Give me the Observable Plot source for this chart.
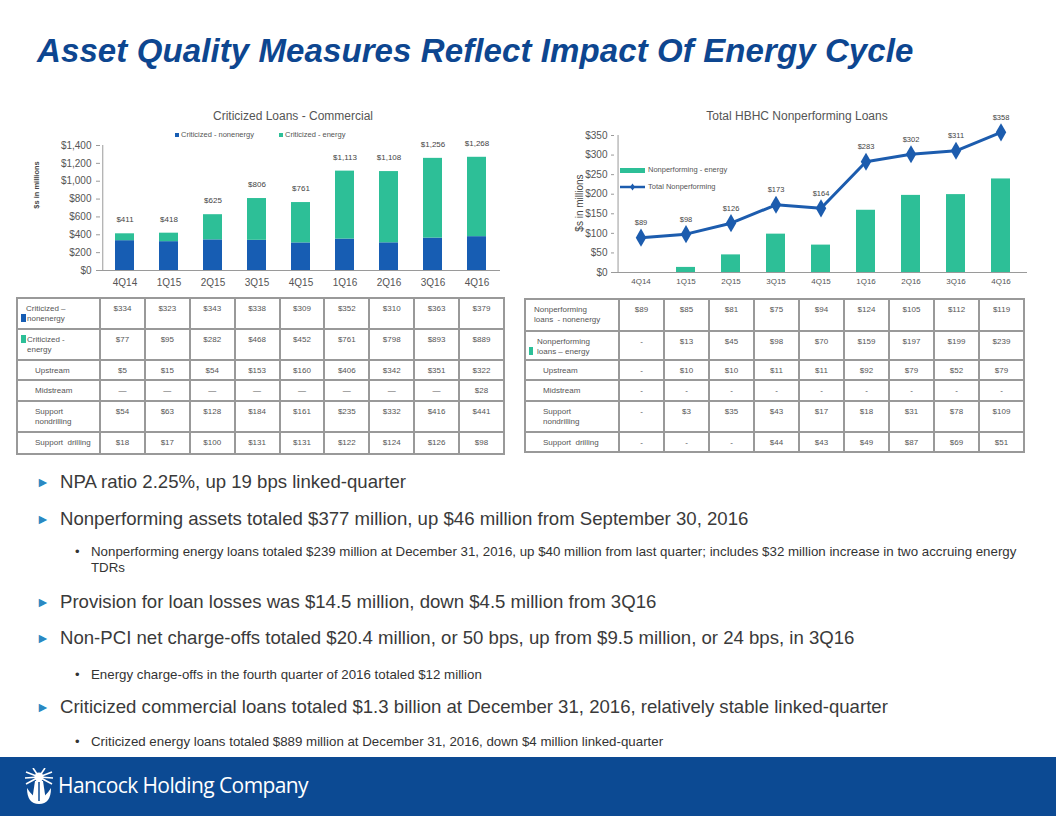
<!DOCTYPE html>
<html><head><meta charset="utf-8">
<script src="https://cdn.jsdelivr.net/npm/d3@7"></script>
<script src="https://cdn.jsdelivr.net/npm/@observablehq/plot@0.6"></script>
<style>
body{margin:0;background:#fff;font-family:"Liberation Sans",Arial,sans-serif;}
#page{position:relative;width:1056px;height:816px;overflow:hidden;background:#fff;}
.abs{position:absolute;white-space:nowrap;}
.title{left:37px;top:32px;font-size:33px;font-weight:bold;font-style:italic;color:#0d4690;letter-spacing:0.1px;}
.ctitle{font-size:12px;color:#555;transform:translate(-50%,-50%);}
.leg{font-size:7.5px;color:#555;line-height:10px;}
.sw{display:inline-block;width:4px;height:4px;margin-right:2px;vertical-align:middle;}
.ylab{transform:translate(-50%,-50%) rotate(-90deg);color:#444;}
table{position:absolute;border-collapse:collapse;table-layout:fixed;font-size:8px;color:#555;}
td{border:2px solid #999;vertical-align:top;padding:5px 0 0 0;text-align:center;line-height:10px;overflow:hidden;}
td.lab{text-align:left;padding-left:8px;}
td.sub{padding-left:17px;}
.tsq{display:inline-block;width:5px;height:8px;vertical-align:-1px;margin-right:1px;}
.bul{position:absolute;left:60px;font-size:18.6px;line-height:22px;color:#3a3a3a;white-space:nowrap;}
.arr{position:absolute;left:36px;font-size:14px;line-height:22px;color:#2a88c2;}
.subb{position:absolute;left:91px;width:935px;font-size:13.3px;line-height:16px;color:#333;}
.dot{position:absolute;left:75px;font-size:13px;line-height:16px;color:#333;}
#footer{position:absolute;left:0;top:757px;width:1056px;height:59px;background:#0c4a93;}
#logotext{position:absolute;left:58px;top:14px;font-family:"Open Sans",sans-serif;font-size:21px;color:#fff;letter-spacing:-0.6px;white-space:nowrap;}
</style></head><body><div id="page">
<div class="abs title">Asset Quality Measures Reflect Impact Of Energy Cycle</div>

<div class="abs ctitle" style="left:293px;top:116px;">Criticized Loans - Commercial</div>
<div class="abs leg" style="left:175px;top:130px;"><span class="sw" id="lsw1"></span>Criticized - nonenergy</div>
<div class="abs leg" style="left:279px;top:130px;"><span class="sw" id="lsw2"></span>Criticized - energy</div>
<div class="abs ylab" style="left:36px;top:185px;font-size:7.5px;font-weight:bold;">$s in millions</div>
<div id="leftChart" class="abs" style="left:0;top:140px;"></div>

<div class="abs ctitle" style="left:797px;top:116px;">Total HBHC Nonperforming Loans</div>
<div class="abs ylab" style="left:579px;top:203px;font-size:10px;">$s in millions</div>
<div id="rightChart" class="abs" style="left:520px;top:130px;"></div>
<div class="abs leg" style="left:620px;top:165px;"><span id="rlsw1" style="display:inline-block;width:25px;height:5px;vertical-align:middle;margin-right:3px;"></span>Nonperforming - energy</div>
<div class="abs leg" style="left:620px;top:182px;"><svg width="25" height="8" style="vertical-align:middle;margin-right:3px;"><line x1="0" y1="4" x2="25" y2="4" id="rll" stroke-width="2.5"/><path id="rld" d="M12.5,0.5 L15,4 L12.5,7.5 L10,4 Z"/></svg>Total Nonperforming</div>

<table id="leftTable" style="left:16px;top:297px;width:487px;"></table>
<table id="rightTable" style="left:524px;top:298px;width:499px;"></table>

<div id="bullets"></div>

<div id="footer">
<svg style="position:absolute;left:24px;top:11px;" width="30" height="36" viewBox="0 0 30 36">
<g stroke="#fff" stroke-width="1.6" fill="none">
<line x1="15" y1="9" x2="2" y2="4"/><line x1="15" y1="9" x2="1" y2="10"/><line x1="15" y1="9" x2="2" y2="16"/>
<line x1="15" y1="9" x2="28" y2="4"/><line x1="15" y1="9" x2="29" y2="10"/><line x1="15" y1="9" x2="28" y2="16"/>
<line x1="15" y1="9" x2="9" y2="0"/><line x1="15" y1="9" x2="21" y2="0"/>
</g>
<circle cx="15" cy="9" r="4.5" fill="#fff"/>
<path d="M11,13 L19,13 L22,33 L8,33 Z" fill="#fff"/>
<path d="M3,20 Q15,40 27,20 Q27,36 15,36 Q3,36 3,20Z" fill="#fff"/>
<line x1="15" y1="14" x2="15" y2="33" stroke="#0c4a93" stroke-width="1.5"/>
</svg>
<div id="logotext">Hancock Holding Company</div>
</div>
</div>
<script>
// ---- data ----
const quarters = ["4Q14","1Q15","2Q15","3Q15","4Q15","1Q16","2Q16","3Q16","4Q16"];
const critNonenergy = [334,323,343,338,309,352,310,363,379];
const critEnergy = [77,95,282,468,452,761,798,893,889];
const critTotal = [411,418,625,806,761,1113,1108,1256,1268];
const critUpstream = [5,15,54,153,160,406,342,351,322];
const critMidstream = [null,null,null,null,null,null,null,null,28];
const critSupportNondrilling = [54,63,128,184,161,235,332,416,441];
const critSupportDrilling = [18,17,100,131,131,122,124,126,98];
const critTicks = [0,200,400,600,800,1000,1200,1400];

const npNonenergy = [89,85,81,75,94,124,105,112,119];
const npEnergy = [null,13,45,98,70,159,197,199,239];
const npTotal = [89,98,126,173,164,283,302,311,358];
const npUpstream = [null,10,10,11,11,92,79,52,79];
const npMidstream = [null,null,null,null,null,null,null,null,null];
const npSupportNondrilling = [null,3,35,43,17,18,31,78,109];
const npSupportDrilling = [null,null,null,44,43,49,87,69,51];
const npTicks = [0,50,100,150,200,250,300,350];

const blue = "#175db3", green = "#2dbf97", lineBlue = "#1c5cae", axisGray = "#9a9a9a";
const money = d3.format("$,");

document.getElementById("lsw1").style.background = blue;
document.getElementById("lsw2").style.background = green;
document.getElementById("rlsw1").style.background = green;
document.getElementById("rll").setAttribute("stroke", lineBlue);
document.getElementById("rld").setAttribute("fill", lineBlue);

// ---- left chart ----
const L = {width:520, height:155, ml:100, mr:20, mt:5, mb:25};
const stackData = quarters.flatMap((q,i)=>[
  {q, type:"nonenergy", v:critNonenergy[i]},
  {q, type:"energy", v:critEnergy[i]}
]);
const leftStep = (L.width - L.ml - L.mr) / quarters.length;
const left = Plot.plot({
  width:L.width, height:L.height, marginLeft:L.ml, marginRight:L.mr, marginTop:L.mt, marginBottom:L.mb,
  style:{fontFamily:"Liberation Sans, Arial, sans-serif", color:"#555", background:"transparent", overflow:"visible"},
  x:{domain:quarters, paddingInner:0.57, paddingOuter:0.285, label:null, axis:null},
  y:{domain:[0,1400], label:null, axis:null},
  color:{domain:["nonenergy","energy"], range:[blue, green]},
  marks:[
    Plot.barY(stackData, {x:"q", y:"v", fill:"type"}),
    Plot.ruleY([0], {stroke:axisGray}),
    Plot.ruleX([quarters[0]], {dx:-leftStep/2, stroke:axisGray}),
    Plot.axisY({ticks:critTicks, tickFormat:money, tickSize:4, tickPadding:5, fontSize:10, stroke:axisGray, fill:"#555"}),
    Plot.axisX({tickSize:0, tickPadding:8, fontSize:10, fill:"#555"}),
    Plot.text(quarters, {x:d=>d, y:(d,i)=>critTotal[i], text:(d,i)=>money(critTotal[i]), dy:-14, fontSize:8, fill:"#444"})
  ]
});
document.getElementById("leftChart").appendChild(left);

// ---- right chart ----
const R = {width:536, height:160, ml:94, mr:29, mt:5, mb:18};
const rightStep = (R.width - R.ml - R.mr) / quarters.length;
const right = Plot.plot({
  width:R.width, height:R.height, marginLeft:R.ml, marginRight:R.mr, marginTop:R.mt, marginBottom:R.mb,
  style:{fontFamily:"Liberation Sans, Arial, sans-serif", color:"#555", background:"transparent", overflow:"visible"},
  x:{domain:quarters, paddingInner:0.58, paddingOuter:0.29, label:null, axis:null},
  y:{domain:[0,350], label:null, axis:null},
  marks:[
    Plot.barY(quarters, {x:d=>d, y:(d,i)=>npEnergy[i] ?? 0, fill:green}),
    Plot.ruleY([0], {stroke:axisGray}),
    Plot.ruleX([quarters[0]], {dx:-rightStep/2, stroke:axisGray}),
    Plot.axisY({ticks:npTicks, tickFormat:money, tickSize:3, tickPadding:4, fontSize:10, stroke:axisGray, fill:"#555"}),
    Plot.axisX({tickSize:0, tickPadding:6, fontSize:8, fill:"#555"}),
    Plot.line(quarters, {x:d=>d, y:(d,i)=>npTotal[i], stroke:lineBlue, strokeWidth:3}),
    Plot.dot(quarters, {x:d=>d, y:(d,i)=>npTotal[i], symbol:"diamond", r:5.5, fill:lineBlue}),
    Plot.text(quarters, {x:d=>d, y:(d,i)=>npTotal[i], text:(d,i)=>money(npTotal[i]), dy:-15, fontSize:7.5, fill:"#444"})
  ]
});
document.getElementById("rightChart").appendChild(right);

// ---- tables ----
function buildTable(id, firstW, rows, empty, heights){
  const t = document.getElementById(id);
  const total = parseFloat(t.style.width);
  const cg = document.createElement("colgroup");
  const c0 = document.createElement("col"); c0.style.width = firstW+"px"; cg.appendChild(c0);
  quarters.forEach(()=>{const c=document.createElement("col"); c.style.width=((total-firstW)/quarters.length)+"px"; cg.appendChild(c);});
  t.appendChild(cg);
  rows.forEach((r,ri)=>{
    const tr = document.createElement("tr");
    tr.style.height = heights[ri]+"px";
    const td = document.createElement("td");
    td.className = "lab" + (r.sub ? " sub" : "");
    td.innerHTML = r.label;
    if (r.swatch) td.style.paddingLeft = "3px";
    tr.appendChild(td);
    r.values.forEach(v=>{
      const c = document.createElement("td");
      c.textContent = v == null ? empty : money(v);
      tr.appendChild(c);
    });
    t.appendChild(tr);
  });
}
buildTable("leftTable", 83, [
  {label:`<span style="padding-left:5px">Criticized –</span><br><span class="tsq" style="background:${blue}"></span>nonenergy`, swatch:true, values:critNonenergy},
  {label:`<span class="tsq" style="background:${green}"></span>Criticized -<br><span style="padding-left:6px">energy</span>`, swatch:true, values:critEnergy},
  {label:"Upstream", sub:true, values:critUpstream},
  {label:"Midstream", sub:true, values:critMidstream},
  {label:"Support<br>nondrilling", sub:true, values:critSupportNondrilling},
  {label:"Support&nbsp; drilling", sub:true, values:critSupportDrilling}
], "—", [31,31,20,21,31,22]);
buildTable("rightTable", 94, [
  {label:"Nonperforming<br>loans&nbsp; - nonenergy", values:npNonenergy},
  {label:`<span style="padding-left:8px">Nonperforming</span><br><span class="tsq" style="background:${green};width:4px;margin-right:4px"></span>loans – energy`, swatch:true, values:npEnergy},
  {label:"Upstream", sub:true, values:npUpstream},
  {label:"Midstream", sub:true, values:npMidstream},
  {label:"Support<br>nondrilling", sub:true, values:npSupportNondrilling},
  {label:"Support&nbsp; drilling", sub:true, values:npSupportDrilling}
], "-", [32,29,20,21,31,20]);

// ---- bullets ----
const bullets = [
  {t:"NPA ratio 2.25%, up 19 bps linked-quarter", y:482, lvl:1},
  {t:"Nonperforming assets totaled $377 million, up $46 million from September 30, 2016", y:519, lvl:1},
  {t:"Nonperforming energy loans totaled $239 million at December 31, 2016, up $40 million from last quarter; includes $32 million increase in two accruing energy TDRs", y:552, lvl:2},
  {t:"Provision for loan losses was $14.5 million, down $4.5 million from 3Q16", y:602, lvl:1},
  {t:"Non-PCI net charge-offs totaled $20.4 million, or 50 bps, up from $9.5 million, or 24 bps, in 3Q16", y:638, lvl:1},
  {t:"Energy charge-offs in the fourth quarter of 2016 totaled $12 million", y:675, lvl:2},
  {t:"Criticized commercial loans totaled $1.3 billion at December 31, 2016, relatively stable linked-quarter", y:707, lvl:1},
  {t:"Criticized energy loans totaled $889 million at December 31, 2016, down $4 million linked-quarter", y:742, lvl:2}
];
const bh = document.getElementById("bullets");
bullets.forEach(b=>{
  if (b.lvl === 1){
    bh.insertAdjacentHTML("beforeend", `<div class="arr" style="top:${b.y-11}px">&#9658;</div><div class="bul" style="top:${b.y-11}px">${b.t}</div>`);
  } else {
    bh.insertAdjacentHTML("beforeend", `<div class="dot" style="top:${b.y-8}px">•</div><div class="subb" style="top:${b.y-8}px">${b.t}</div>`);
  }
});
</script>
</body></html>
